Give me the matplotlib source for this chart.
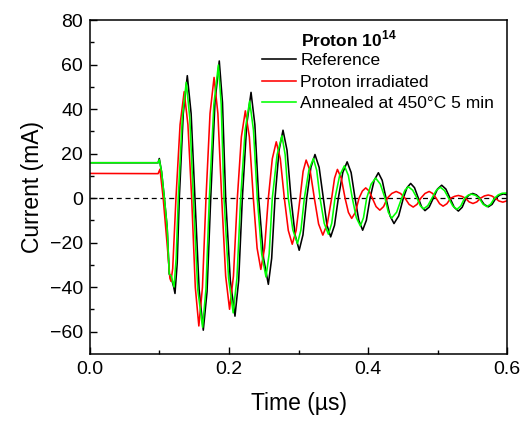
import matplotlib
matplotlib.use("Agg")
import matplotlib.pyplot as plt

plt.rcParams['font.family'] = ['Liberation Sans', 'DejaVu Sans']
plt.rcParams['mathtext.fontset'] = 'custom'
plt.rcParams['mathtext.rm'] = 'Liberation Sans'
plt.rcParams['mathtext.bf'] = 'Liberation Sans:bold'

# points: (time in us, current in mA)
reference = [
    (0.0, 15.9), (0.098, 15.9), (0.0997, 17.8), (0.103, 11.8), (0.107, 0), (0.111, -13),
    (0.114, -34), (0.117, -36), (0.1205, -40), (0.1223, -42.8), (0.1255, -29), (0.1285, 0),
    (0.1342, 38), (0.140, 55), (0.1455, 38), (0.151, 0), (0.157, -41), (0.163, -59.3),
    (0.1684, -42), (0.1737, 0), (0.1798, 43), (0.186, 61.6), (0.1906, 43), (0.1952, 0),
    (0.2019, -37), (0.2086, -53), (0.2139, -37), (0.2192, 0), (0.2255, 33), (0.2317, 47.5),
    (0.2372, 33), (0.2427, 0), (0.2497, -27), (0.2566, -38.7), (0.2614, -27), (0.2662, 0),
    (0.2720, 21.5), (0.2777, 30.5), (0.2835, 21.5), (0.2892, 0), (0.2951, -16.5), (0.301, -23.4),
    (0.3064, -16.5), (0.3118, 0), (0.3178, 13.8), (0.3237, 19.6), (0.3297, 13.8), (0.3357, 0),
    (0.341, -12.2), (0.3463, -17.4), (0.3518, -12.2), (0.3573, 0), (0.3637, 11.5), (0.370, 16.3),
    (0.3757, 11.5), (0.3813, 0), (0.3868, -10), (0.3923, -14.4), (0.3976, -10), (0.4029, 0),
    (0.4089, 8), (0.4149, 11.4), (0.4204, 8), (0.4259, 0), (0.4317, -8), (0.4374, -11.4),
    (0.4441, -8), (0.4508, 0), (0.4561, 4.7), (0.4614, 6.6), (0.4669, 4.7), (0.4724, 0),
    (0.4772, -4), (0.482, -5.6), (0.488, -4), (0.494, 0), (0.500, 4.1), (0.506, 5.8),
    (0.512, 4.1), (0.518, 0), (0.524, -4.1), (0.530, -5.8), (0.5355, -4.1), (0.541, 0),
    (0.5458, 1.5), (0.5506, 2.1), (0.5558, 1.5), (0.561, 0), (0.567, -2.8), (0.573, -3.9),
    (0.5785, -2.8), (0.584, 0), (0.5895, 1.4), (0.595, 1.9), (0.6, 1.5),
]

proton = [
    (0.0, 11.1), (0.098, 11.0), (0.1007, 13.0), (0.1053, 0), (0.1113, -21.9), (0.115, -36),
    (0.1165, -37.3), (0.119, -31.6), (0.1237, 0), (0.1296, 33), (0.1355, 47.8), (0.1409, 33),
    (0.1463, 0), (0.1515, -40), (0.1566, -57.4), (0.1618, -40), (0.1669, 0), (0.1727, 38),
    (0.1785, 54.2), (0.184, 38), (0.1895, 0), (0.1952, -35), (0.2008, -49.9), (0.2064, -35),
    (0.212, 0), (0.2178, 27.5), (0.2235, 39.2), (0.2293, 27.5), (0.235, 0), (0.2404, -22.4),
    (0.2458, -32), (0.2512, -22.4), (0.2566, 0), (0.2623, 17.7), (0.268, 25.3), (0.2738, 17.7),
    (0.2796, 0), (0.2853, -14.5), (0.291, -20.7), (0.2966, -14.5), (0.3022, 0), (0.3066, 12),
    (0.311, 17.1), (0.3169, 12), (0.3228, 0), (0.3289, -11.6), (0.335, -16.6), (0.3414, -11.6),
    (0.3477, 0), (0.3519, 9), (0.356, 12.9), (0.3615, 9), (0.367, 0), (0.3718, -6.4),
    (0.3765, -9.1), (0.3818, -6.4), (0.3871, 0), (0.3919, 3.2), (0.3967, 4.6), (0.4015, 3.2),
    (0.4062, 0), (0.4116, -3.8), (0.417, -5.4), (0.4224, -3.8), (0.4278, 0), (0.4342, 2.1),
    (0.4405, 3.0), (0.4468, 2.1), (0.4532, 0), (0.4591, -2.8), (0.465, -4.0), (0.4705, -2.8),
    (0.476, 0), (0.482, 2.1), (0.488, 3.0), (0.493, 2.1), (0.498, 0), (0.503, -2.5),
    (0.508, -3.6), (0.5135, -2.5), (0.519, 0), (0.5245, 0.8), (0.530, 1.2), (0.535, 0.8),
    (0.540, 0), (0.5455, -1.7), (0.551, -2.4), (0.5565, -1.7), (0.562, 0), (0.5675, 1.0),
    (0.573, 1.4), (0.578, 1.0), (0.583, 0), (0.5885, -1.3), (0.594, -1.8), (0.6, -1.2),
]

annealed = [
    (0.0, 15.9), (0.098, 15.9), (0.0997, 17.3), (0.103, 11.8), (0.107, 0), (0.111, -13),
    (0.114, -34), (0.117, -35), (0.1209, -39.9), (0.124, -27), (0.127, 0), (0.1328, 36),
    (0.1385, 52), (0.1436, 36), (0.1487, 0), (0.155, -41), (0.162, -58), (0.1668, -41),
    (0.1717, 0), (0.1782, 42), (0.1847, 59.8), (0.1888, 42), (0.1928, 0), (0.1994, -36),
    (0.206, -51.5), (0.2114, -36), (0.2168, 0), (0.2232, 30.5), (0.2297, 43.6), (0.2352, 30.5),
    (0.2407, 0), (0.247, -25), (0.2532, -35.4), (0.2578, -25), (0.2623, 0), (0.2692, 19.5),
    (0.2762, 28), (0.2808, 19.5), (0.2853, 0), (0.2919, -14.3), (0.2985, -20.4), (0.3035, -14.3),
    (0.3084, 0), (0.3149, 12.5), (0.3214, 17.8), (0.3262, 12.5), (0.331, 0), (0.337, -11.3),
    (0.343, -16.2), (0.3478, -11.3), (0.3525, 0), (0.3592, 10.2), (0.366, 14.5), (0.3717, 10.2),
    (0.3774, 0), (0.3832, -8.8), (0.389, -12.5), (0.3935, -8.8), (0.3981, 0), (0.4045, 6.3),
    (0.411, 9), (0.4177, 6.3), (0.4245, 0), (0.4292, -6.3), (0.434, -9), (0.4412, -6.3),
    (0.4484, 0), (0.4532, 3.6), (0.458, 5.1), (0.4642, 3.6), (0.4705, 0), (0.4752, -3.4),
    (0.480, -4.8), (0.486, -3.4), (0.492, 0), (0.498, 3.4), (0.504, 4.9), (0.510, 3.4),
    (0.516, 0), (0.522, -3.5), (0.528, -5), (0.5335, -3.5), (0.539, 0), (0.544, 1.3),
    (0.549, 1.8), (0.5545, 1.3), (0.560, 0), (0.5655, -2.7), (0.571, -3.8), (0.5765, -2.7),
    (0.582, 0), (0.5875, 1.5), (0.593, 2.2), (0.6, 2.3),
]

labels = ['Reference', 'Proton irradiated', 'Annealed at 450\u00b0C 5 min']
colors = ['black', 'red', '#00ff00']

fig = plt.figure(figsize=(5.22, 4.22), dpi=100)
ax = fig.add_axes([0.1724, 0.1611, 0.7989, 0.7915])

ax.axhline(0, color='black', lw=0.9, ls=(0, (4, 3)), zorder=1)
for series, lab, c in zip([reference, proton, annealed], labels, colors):
    t, i = zip(*series)
    ax.plot(t, i, color=c, lw=1.15, label=lab, zorder=2, solid_joinstyle='round')

ax.set_xlim(0, 0.6)
ax.set_ylim(-70, 80)
ax.set_xticks([0.0, 0.2, 0.4, 0.6])
ax.set_xticks([0.1, 0.3, 0.5], minor=True)
ax.set_yticks(range(-60, 81, 20))
ax.set_yticks(range(-50, 80, 20), minor=True)
ax.set_xticklabels(['0.0', '0.2', '0.4', '0.6'])
ax.tick_params(which='both', direction='in', top=False, right=False, width=1.0,
               labelsize=14, pad=5)
ax.tick_params(which='major', length=5)
ax.tick_params(which='minor', length=3)
for s in ax.spines.values():
    s.set_linewidth(1.1)

ax.set_xlabel('Time (\u00b5s)', fontsize=16.5, labelpad=10)
ax.set_ylabel('Current (mA)', fontsize=16.5, labelpad=4)

ax.text(0.506, 0.943, r'Proton 10$^{\mathbf{14}}$', transform=ax.transAxes,
        fontsize=12.5, fontweight='bold', ha='left', va='center')
ax.legend(loc='upper left', bbox_to_anchor=(0.4125, 0.902), frameon=False,
          fontsize=12.5, handlelength=1.95, handletextpad=0.25, labelspacing=0.38,
          borderpad=0, borderaxespad=0)

fig.savefig('out.png', dpi=100)
